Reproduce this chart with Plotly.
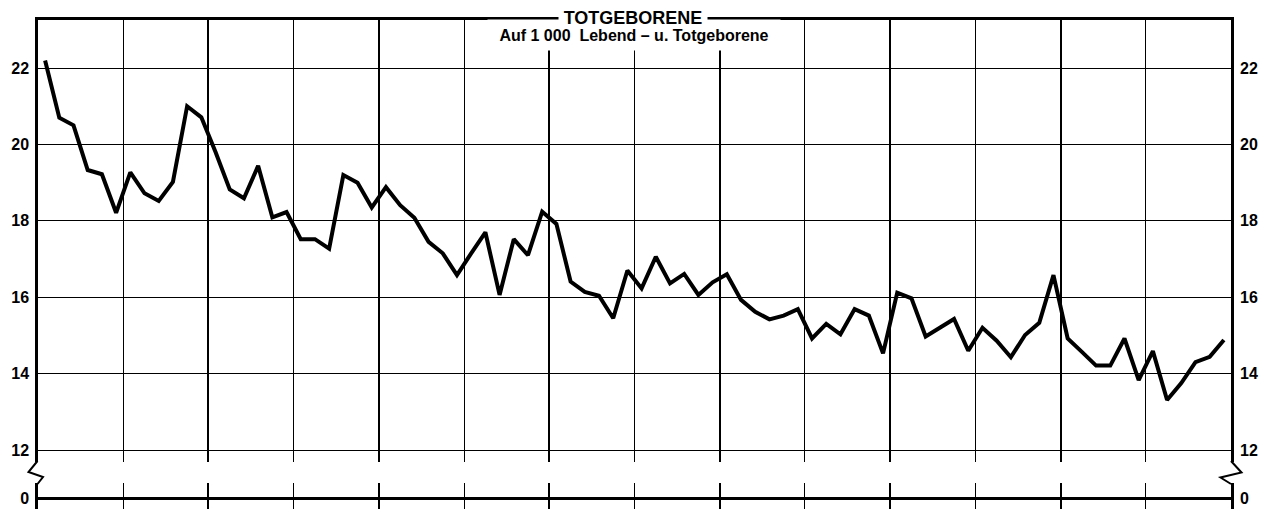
import plotly.graph_objects as go

# ---- data ----
periods = list(range(1, 85))
stillbirth_rate = [
    22.2, 20.7, 20.5, 19.33, 19.22, 18.21, 19.27, 18.72, 18.52, 19.02,
    21.0, 20.71, 19.8, 18.82, 18.59, 19.44, 18.09, 18.23, 17.52, 17.52,
    17.27, 19.2, 19.0, 18.35, 18.88, 18.41, 18.08, 17.45, 17.15, 16.58,
    17.15, 17.7, 16.06, 17.52, 17.1, 18.24, 17.92, 16.41, 16.14, 16.04,
    15.45, 16.7, 16.23, 17.06, 16.36, 16.61, 16.06, 16.39, 16.6, 15.93,
    15.62, 15.42, 15.52, 15.69, 14.92, 15.3, 15.03, 15.69, 15.52, 14.53,
    16.12, 15.97, 14.97, 15.19, 15.43, 14.6, 15.2, 14.86, 14.43, 15.01,
    15.33, 16.58, 14.92, 14.57, 14.21, 14.21, 14.92, 13.83, 14.59, 13.31,
    13.75, 14.3, 14.44, 14.88,
]
y_ticks = [12, 14, 16, 18, 20, 22]
y_ticks_low = [0]
title_text = "TOTGEBORENE"
subtitle_text = "Auf 1\u00a0000\u00a0\u00a0Lebend\u00a0–\u00a0u.\u00a0Totgeborene"

# ---- geometry (page pixels; the page body has an 8px margin) ----
OFF = 8
PAGE_W, PAGE_H = 1274, 509
W, H = PAGE_W - OFF, PAGE_H - OFF
PLOT_L, PLOT_R, PLOT_T, PLOT_B = 38, 1231, 20, 509   # page coordinates
ML, MR, MT, MB = PLOT_L - OFF, PAGE_W - PLOT_R, PLOT_T - OFF, 0
PW, PH = PLOT_R - PLOT_L, PLOT_B - PLOT_T


def px(x):
    return (x - PLOT_L) / PW


def py(y):
    return (PLOT_B - y) / PH


main_bottom_px = 462
low_top_px = 483

font_tick = dict(family="Liberation Sans", size=16, color="black", weight="bold")
BLACK = "black"
STANDOFF_L = 3
STANDOFF_R = 8

fig = go.Figure()
fig.add_trace(go.Scatter(x=periods, y=stillbirth_rate, mode="lines",
                         line=dict(color=BLACK, width=4), xaxis="x", yaxis="y",
                         hoverinfo="skip", showlegend=False))
fig.add_trace(go.Scatter(x=[None], y=[None], xaxis="x", yaxis="y2", showlegend=False, hoverinfo="skip"))
fig.add_trace(go.Scatter(x=[None], y=[None], xaxis="x2", yaxis="y3", showlegend=False, hoverinfo="skip"))
fig.add_trace(go.Scatter(x=[None], y=[None], xaxis="x2", yaxis="y4", showlegend=False, hoverinfo="skip"))

xgrid = dict(range=[0.5, 84.5], showgrid=True, gridcolor=BLACK, gridwidth=2,
             tick0=0.5, dtick=12, showticklabels=False, ticks="", zeroline=False,
             minor=dict(tick0=0.5, dtick=6, showgrid=True, gridcolor=BLACK, gridwidth=1.2))

yr_main = [11.686, 23.258]
yr_low = [-11, 15]

fig.update_layout(
    width=W, height=H,
    margin=dict(l=ML, r=MR, t=MT, b=MB, pad=0, autoexpand=False),
    paper_bgcolor="white", plot_bgcolor="white",
    showlegend=False,
    xaxis=dict(domain=[0, 1], anchor="y", side="top", showline=True, linecolor=BLACK,
               linewidth=2.5, **xgrid),
    xaxis2=dict(domain=[0, 1], anchor="y3", showline=False, **xgrid),
    yaxis=dict(domain=[py(main_bottom_px), 1], anchor="x", range=yr_main,
               tickvals=y_ticks, showgrid=True, gridcolor=BLACK, gridwidth=1.3,
               showline=True, mirror=True, linecolor=BLACK, linewidth=2.5,
               ticks="", zeroline=False, tickfont=font_tick, ticklabelstandoff=STANDOFF_L),
    yaxis2=dict(overlaying="y", side="right", anchor="x", range=yr_main,
                tickvals=y_ticks, showgrid=False, showline=False, ticks="",
                zeroline=False, tickfont=font_tick, ticklabelstandoff=STANDOFF_R),
    yaxis3=dict(domain=[0, py(low_top_px)], anchor="x2", range=yr_low,
                tickvals=y_ticks_low, showgrid=True, gridcolor=BLACK, gridwidth=2.5,
                showline=True, mirror=True, linecolor=BLACK, linewidth=2.5,
                ticks="", zeroline=False, tickfont=font_tick, ticklabelstandoff=STANDOFF_L),
    yaxis4=dict(overlaying="y3", side="right", anchor="x2", range=yr_low,
                tickvals=y_ticks_low, showgrid=False, showline=False, ticks="",
                zeroline=False, tickfont=font_tick, ticklabelstandoff=STANDOFF_R),
)


def zig(points):
    d = "M " + " L ".join(f"{px(a):.5f},{py(b):.5f}" for a, b in points)
    return dict(type="path", xref="paper", yref="paper", path=d,
                line=dict(color=BLACK, width=2), layer="above")


fig.add_shape(zig([(37.5, 461), (28.5, 472), (43, 477), (37.5, 484)]))
fig.add_shape(zig([(1231, 461), (1241.5, 472.5), (1220.5, 477.5), (1231, 484)]))

fig.add_annotation(text=subtitle_text, xref="paper", yref="paper",
                   x=px(634), y=py(35), xanchor="center", yanchor="middle",
                   showarrow=False, bgcolor="white", width=290, height=28,
                   font=dict(family="Liberation Sans", size=16, color=BLACK, weight="bold"))
fig.add_annotation(text=title_text, xref="paper", yref="paper",
                   x=px(632.5), y=py(18), xanchor="center", yanchor="middle",
                   showarrow=False, bgcolor="white", width=146, height=18,
                   font=dict(family="Liberation Sans", size=18, color=BLACK, weight="bold"))

fig.write_html("out.html")
